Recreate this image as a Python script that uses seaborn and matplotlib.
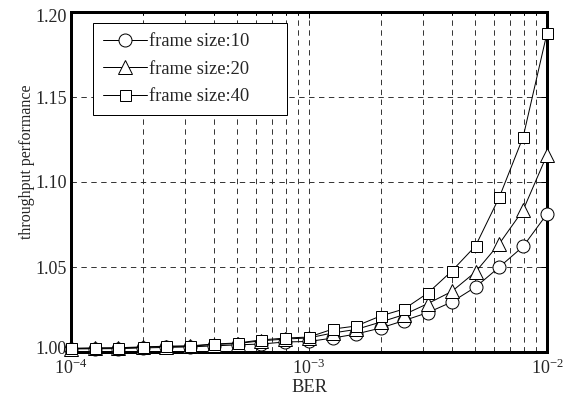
import numpy as np
import pandas as pd
import matplotlib
matplotlib.use("Agg")
import matplotlib.pyplot as plt
import matplotlib.transforms as mtransforms
import seaborn as sns
from matplotlib.ticker import FormatStrFormatter, LogLocator

ber = [1.0e-4, 1.26e-4, 1.58e-4, 2.0e-4, 2.51e-4, 3.16e-4, 3.98e-4, 5.01e-4,
       6.31e-4, 7.94e-4, 1.0e-3, 1.26e-3, 1.58e-3, 2.0e-3, 2.51e-3, 3.16e-3,
       3.98e-3, 5.01e-3, 6.31e-3, 7.94e-3, 1.0e-2]
fs10 = [1.0018, 1.0019, 1.0020, 1.0024, 1.0027, 1.0030, 1.0036, 1.0042,
        1.0047, 1.0059, 1.0062, 1.0082, 1.0106, 1.0141, 1.0185, 1.0232,
        1.0294, 1.0382, 1.0500, 1.0621, 1.0812]
fs20 = [1.0020, 1.0022, 1.0023, 1.0028, 1.0032, 1.0034, 1.0044, 1.0050,
        1.0066, 1.0076, 1.0083, 1.0112, 1.0133, 1.0176, 1.0220, 1.0285,
        1.0356, 1.0471, 1.0638, 1.0835, 1.1159]
fs40 = [1.0022, 1.0024, 1.0025, 1.0030, 1.0034, 1.0036, 1.0047, 1.0053,
        1.0071, 1.0082, 1.0088, 1.0135, 1.0153, 1.0212, 1.0253, 1.0347,
        1.0476, 1.0624, 1.0912, 1.1265, 1.1876]
labels = ["frame size:10", "frame size:20", "frame size:40"]
yticks = [1.00, 1.05, 1.10, 1.15, 1.20]

sns.set_style("white")
plt.rcParams["font.family"] = ["Liberation Serif", "DejaVu Serif"]
plt.rcParams["mathtext.fontset"] = "custom"
plt.rcParams["mathtext.rm"] = "Liberation Serif"
plt.rcParams["mathtext.it"] = "Liberation Serif:italic"

fig = plt.figure(figsize=(8, 5.5), dpi=72)
ax = fig.add_axes([71/576, 1-352/396, 476/576, 340/396])

series = [(fs10, "o", 13), (fs20, "^", 14), (fs40, "s", 11)]
for (vals, mk, ms), lab in zip(series, labels):
    df = pd.DataFrame({"BER": ber, "val": vals})
    sns.lineplot(data=df, x="BER", y="val", ax=ax, color="black", lw=1,
                 marker=mk, markersize=ms, markerfacecolor="white",
                 markeredgecolor="black", markeredgewidth=1, label=lab,
                 clip_on=False, zorder=5)

ax.set_xscale("log")
ax.set_xlim(1e-4, 1e-2)
ax.set_ylim(1.0, 1.2)
ax.set_yticks(yticks)
ax.yaxis.set_major_formatter(FormatStrFormatter("%.2f"))
ax.xaxis.set_major_locator(LogLocator(base=10, numticks=10))
ax.xaxis.set_minor_locator(LogLocator(base=10, subs=np.arange(2, 10), numticks=20))

ax.grid(True, which="major", axis="both", color="#222222", lw=0.9, linestyle=(0, (6, 5)))
ax.grid(True, which="minor", axis="x", color="#222222", lw=0.9, linestyle=(0, (6, 5)))
ax.set_axisbelow(True)

ax.tick_params(which="both", direction="in", top=True, right=True, labelsize=18,
               color="black", width=1)
ax.tick_params(axis="x", which="major", length=6, pad=7)
ax.tick_params(axis="y", which="major", length=6, pad=4)
ax.tick_params(which="minor", length=3)
for s in ax.spines.values():
    s.set_linewidth(3)
    s.set_color("black")

ax.set_xlabel("BER", fontsize=18.5, labelpad=1)
ax.set_ylabel("throughput performance", fontsize=16)
ax.yaxis.set_label_coords(-0.076, 0.56)

leg = ax.legend(loc="upper left", bbox_to_anchor=(0.046, 0.5, 0.4076, 0.468),
                mode="expand", borderaxespad=0,
                fontsize=18.5, frameon=True, fancybox=False, framealpha=1,
                edgecolor="black", handlelength=2.4, handletextpad=0.1,
                borderpad=0.55, labelspacing=0.57)
leg.get_frame().set_linewidth(1)

fig.canvas.draw()
yt = ax.yaxis.get_major_ticks()
yt[0].label1.set_transform(yt[0].label1.get_transform() +
                           mtransforms.ScaledTranslation(0, 4/72, fig.dpi_scale_trans))
yt[-1].label1.set_transform(yt[-1].label1.get_transform() +
                            mtransforms.ScaledTranslation(0, -3/72, fig.dpi_scale_trans))

fig.savefig("out.png", dpi=72, facecolor="white")
